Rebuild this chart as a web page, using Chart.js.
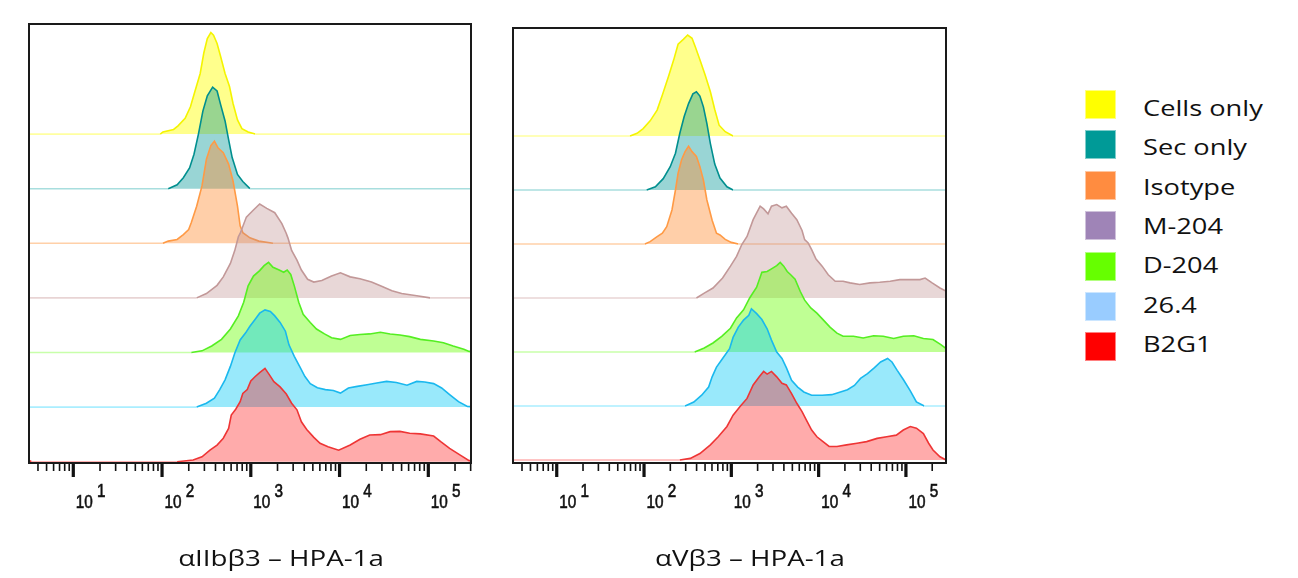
<!DOCTYPE html>
<html>
<head>
<meta charset="utf-8">
<script src="https://cdn.jsdelivr.net/npm/chart.js@4.4.1/dist/chart.umd.min.js"></script>
<style>
  body { margin: 0; background: #fff; }
  #page { position: relative; width: 1298px; height: 578px; overflow: hidden; font-family: 'Open Sans', sans-serif; color: #111; }
  canvas { position: absolute; top: 0; }
  #c1 { left: 0; }
  #c2 { left: 490px; }
  .title { position: absolute; top: 548px; font-size: 21px; line-height: 21px; white-space: nowrap; transform: translateX(-50%) scaleX(1.32); }
  .swatch { position: absolute; left: 1085px; width: 31px; height: 29px; box-sizing: border-box; }
  .label { position: absolute; left: 1143px; font-size: 22.5px; line-height: 29px; white-space: nowrap; transform-origin: left center; transform: scaleX(1.21); }
</style>
</head>
<body>
<div id="page">
  <canvas id="c1" width="490" height="578"></canvas>
  <canvas id="c2" width="480" height="578"></canvas>
</div>
<script>
// legend order, top row first
const categories = ['Cells only', 'Sec only', 'Isotype', 'M-204', 'D-204', '26.4', 'B2G1'];
const legendColors = ['#ffff00', '#009a97', '#ff8c40', '#9f84b7', '#66ff00', '#99ccff', '#ff0000'];
const lineColors = ['#f4f400', '#008f8f', '#ff9a45', '#c29898', '#55ee22', '#1ab8ee', '#ee3535'];
const fillColors = ['rgba(255,255,0,0.45)', 'rgba(0,150,150,0.4)', 'rgba(255,140,50,0.42)',
  'rgba(190,140,140,0.35)', 'rgba(102,255,0,0.42)', 'rgba(0,200,245,0.4)', 'rgba(255,0,0,0.33)'];
const baseColors = ['#ffffa0', '#a8dede', '#ffd0a8', '#e8d4d4', '#c8ffaa', '#aaeeff', '#ffb0b0'];
const tickExponents = [1, 2, 3, 4, 5];
const panelTitles = ['αIIbβ3 – HPA-1a', 'αVβ3 – HPA-1a'];

// histograms: [log10 intensity, height in rows]
const leftCells = [[1.98,0],[2.01,0.04],[2.13,0.085],[2.18,0.15],[2.26,0.29],[2.32,0.5],[2.37,0.78],[2.43,1.11],[2.47,1.48],[2.51,1.75],[2.55,1.86],[2.58,1.81],[2.62,1.66],[2.66,1.42],[2.71,1.11],[2.76,0.87],[2.80,0.56],[2.85,0.26],[2.90,0.10],[2.97,0.04],[3.05,0]];
const leftSec = [[2.07,0],[2.17,0.07],[2.24,0.20],[2.31,0.38],[2.36,0.63],[2.41,1.0],[2.46,1.42],[2.51,1.70],[2.57,1.86],[2.62,1.79],[2.66,1.54],[2.71,1.24],[2.75,0.90],[2.79,0.57],[2.85,0.26],[2.91,0.13],[2.99,0]];
const leftIso = [[2.01,0],[2.07,0.04],[2.17,0.07],[2.24,0.16],[2.30,0.25],[2.33,0.38],[2.39,0.68],[2.45,1.05],[2.50,1.54],[2.55,1.79],[2.59,1.87],[2.63,1.75],[2.69,1.66],[2.75,1.45],[2.80,1.14],[2.85,0.68],[2.88,0.32],[2.91,0.195],[2.99,0.10],[3.09,0.04],[3.25,0]];
const leftM204 = [[2.39,0],[2.50,0.08],[2.62,0.23],[2.69,0.385],[2.77,0.63],[2.82,0.87],[2.86,1.12],[2.88,1.18],[2.95,1.48],[3.03,1.61],[3.10,1.72],[3.18,1.64],[3.27,1.56],[3.35,1.36],[3.40,1.18],[3.42,1.09],[3.46,0.87],[3.52,0.69],[3.57,0.51],[3.64,0.34],[3.71,0.29],[3.80,0.32],[3.91,0.40],[4.01,0.46],[4.12,0.385],[4.23,0.35],[4.36,0.29],[4.48,0.21],[4.59,0.13],[4.70,0.08],[4.87,0.04],[5.02,0]];
const leftD204 = [[2.33,0],[2.45,0.03],[2.56,0.12],[2.67,0.24],[2.77,0.43],[2.86,0.67],[2.92,0.92],[2.97,1.22],[3.03,1.40],[3.10,1.50],[3.15,1.59],[3.20,1.65],[3.25,1.56],[3.32,1.51],[3.37,1.47],[3.41,1.51],[3.45,1.43],[3.49,1.22],[3.54,0.92],[3.59,0.70],[3.67,0.55],[3.74,0.43],[3.83,0.34],[3.91,0.27],[4.01,0.24],[4.12,0.31],[4.23,0.33],[4.34,0.34],[4.46,0.37],[4.57,0.34],[4.68,0.32],[4.79,0.29],[4.91,0.24],[5.06,0.21],[5.17,0.18],[5.28,0.12],[5.40,0.06],[5.46,0.02]];
const left264 = [[2.39,0],[2.50,0.07],[2.59,0.165],[2.65,0.32],[2.71,0.50],[2.77,0.745],[2.82,0.99],[2.88,1.23],[2.94,1.355],[2.99,1.48],[3.05,1.61],[3.10,1.72],[3.16,1.78],[3.22,1.75],[3.27,1.67],[3.33,1.55],[3.39,1.39],[3.43,1.14],[3.49,0.93],[3.55,0.745],[3.61,0.56],[3.67,0.43],[3.75,0.354],[3.84,0.32],[3.93,0.305],[4.01,0.256],[4.10,0.35],[4.20,0.38],[4.31,0.41],[4.42,0.44],[4.53,0.47],[4.64,0.45],[4.76,0.40],[4.87,0.47],[4.96,0.46],[5.06,0.43],[5.15,0.35],[5.24,0.23],[5.34,0.10],[5.44,0.01]];
const leftB2G1 = [[0.48,0.04],[0.53,0],[2.17,0],[2.35,0.03],[2.45,0.09],[2.54,0.21],[2.62,0.305],[2.69,0.43],[2.75,0.61],[2.78,0.855],[2.83,0.96],[2.88,1.10],[2.91,1.25],[2.96,1.32],[3.00,1.48],[3.05,1.56],[3.10,1.63],[3.16,1.71],[3.21,1.59],[3.26,1.465],[3.33,1.37],[3.40,1.24],[3.46,1.07],[3.52,0.95],[3.57,0.73],[3.63,0.59],[3.71,0.445],[3.78,0.336],[3.87,0.275],[3.99,0.21],[4.12,0.305],[4.23,0.41],[4.34,0.49],[4.46,0.495],[4.57,0.55],[4.68,0.555],[4.79,0.52],[4.91,0.51],[5.06,0.47],[5.14,0.366],[5.24,0.244],[5.36,0.12],[5.46,0.02]];

const rightCells = [[1.84,0],[1.92,0.05],[1.99,0.136],[2.07,0.28],[2.15,0.48],[2.21,0.76],[2.28,1.10],[2.34,1.41],[2.39,1.70],[2.45,1.79],[2.50,1.87],[2.55,1.81],[2.59,1.64],[2.64,1.41],[2.70,1.13],[2.76,0.82],[2.81,0.49],[2.86,0.20],[2.93,0.08],[3.02,0]];
const rightSec = [[2.03,0],[2.13,0.06],[2.22,0.21],[2.30,0.43],[2.36,0.68],[2.41,1.05],[2.46,1.36],[2.51,1.60],[2.56,1.78],[2.60,1.82],[2.64,1.74],[2.68,1.54],[2.72,1.23],[2.76,0.86],[2.81,0.48],[2.87,0.22],[2.95,0.06],[3.02,0]];
const rightIso = [[2.01,0],[2.07,0.043],[2.15,0.136],[2.21,0.2],[2.26,0.32],[2.32,0.63],[2.36,1.0],[2.39,1.31],[2.43,1.56],[2.47,1.71],[2.51,1.81],[2.55,1.71],[2.60,1.62],[2.64,1.43],[2.68,1.185],[2.72,0.815],[2.78,0.44],[2.83,0.20],[2.87,0.167],[2.93,0.086],[3.00,0.03],[3.08,0]];
const rightM204 = [[2.60,0],[2.69,0.09],[2.79,0.185],[2.90,0.37],[2.99,0.59],[3.06,0.77],[3.12,0.99],[3.18,1.14],[3.25,1.45],[3.33,1.70],[3.37,1.65],[3.42,1.56],[3.46,1.70],[3.52,1.73],[3.58,1.67],[3.63,1.70],[3.69,1.57],[3.75,1.45],[3.81,1.25],[3.84,1.08],[3.88,1.02],[3.92,0.895],[3.97,0.72],[4.04,0.59],[4.11,0.43],[4.19,0.31],[4.28,0.31],[4.36,0.28],[4.47,0.25],[4.59,0.28],[4.70,0.29],[4.82,0.31],[4.93,0.34],[5.05,0.34],[5.16,0.34],[5.22,0.37],[5.30,0.28],[5.39,0.185],[5.47,0.12]];
const rightD204 = [[2.58,0],[2.69,0.074],[2.79,0.167],[2.89,0.29],[2.99,0.44],[3.06,0.63],[3.14,0.78],[3.21,1.0],[3.29,1.20],[3.35,1.475],[3.41,1.49],[3.46,1.54],[3.52,1.60],[3.56,1.66],[3.60,1.59],[3.64,1.49],[3.68,1.43],[3.73,1.35],[3.79,1.12],[3.84,0.96],[3.91,0.815],[3.98,0.72],[4.05,0.60],[4.13,0.46],[4.21,0.35],[4.28,0.29],[4.40,0.29],[4.51,0.26],[4.63,0.30],[4.74,0.29],[4.86,0.25],[4.97,0.29],[5.09,0.30],[5.20,0.25],[5.31,0.23],[5.40,0.136],[5.48,0.04]];
const right264 = [[2.47,0],[2.57,0.074],[2.66,0.20],[2.74,0.35],[2.78,0.54],[2.83,0.72],[2.90,0.88],[2.98,1.06],[3.02,1.27],[3.08,1.46],[3.14,1.59],[3.20,1.68],[3.23,1.80],[3.29,1.71],[3.35,1.60],[3.41,1.43],[3.46,1.22],[3.52,1.0],[3.58,0.88],[3.63,0.71],[3.69,0.475],[3.76,0.35],[3.83,0.26],[3.92,0.20],[4.04,0.20],[4.15,0.21],[4.25,0.26],[4.33,0.30],[4.41,0.38],[4.48,0.51],[4.56,0.60],[4.64,0.71],[4.71,0.815],[4.79,0.88],[4.84,0.815],[4.90,0.66],[4.97,0.49],[5.05,0.28],[5.12,0.074],[5.21,0]];
const rightB2G1 = [[2.41,0],[2.53,0.03],[2.64,0.12],[2.76,0.28],[2.85,0.43],[2.95,0.62],[3.02,0.83],[3.10,0.99],[3.18,1.14],[3.25,1.39],[3.32,1.54],[3.37,1.64],[3.41,1.59],[3.46,1.64],[3.52,1.54],[3.58,1.42],[3.63,1.39],[3.69,1.23],[3.75,1.05],[3.81,0.895],[3.86,0.74],[3.92,0.555],[3.98,0.43],[4.05,0.34],[4.12,0.25],[4.21,0.25],[4.32,0.28],[4.44,0.31],[4.55,0.34],[4.67,0.40],[4.78,0.43],[4.89,0.46],[4.97,0.555],[5.05,0.62],[5.12,0.59],[5.20,0.49],[5.26,0.31],[5.31,0.185],[5.39,0.06],[5.46,0]];

const leftCurves = [leftCells, leftSec, leftIso, leftM204, leftD204, left264, leftB2G1];
const rightCurves = [rightCells, rightSec, rightIso, rightM204, rightD204, right264, rightB2G1];

// frame, log ticks and 10^n labels
const logAxis = {
  id: 'logAxis',
  afterDatasetsDraw(chart) {
    const { ctx, chartArea: a, scales: { x } } = chart;
    ctx.save();
    ctx.fillStyle = '#111';
    for (let d = 0; d <= 5; d++) {
      for (let m = 1; m <= 9; m++) {
        const v = m * Math.pow(10, d);
        if (v < x.min || v > x.max) continue;
        const px = x.getPixelForValue(v);
        if (m === 1) ctx.fillRect(px - 1.6, a.bottom, 3.2, 14);
        else ctx.fillRect(px - 0.8, a.bottom, 1.6, 8);
      }
    }
    ctx.strokeStyle = '#1a1a1a';
    ctx.lineWidth = 2;
    ctx.strokeRect(a.left, a.top, a.right - a.left, a.bottom - a.top);
    ctx.font = '18px "Liberation Sans", Arial, sans-serif';
    ctx.textBaseline = 'alphabetic';
    ctx.strokeStyle = '#111';
    ctx.lineWidth = 0.6;
    tickExponents.forEach(e => {
      const px = x.getPixelForValue(Math.pow(10, e)) + 2.5;
      ctx.save();
      ctx.translate(px, 508);
      ctx.scale(0.85, 1);
      ctx.fillText('10', 0, 0);
      ctx.strokeText('10', 0, 0);
      const w = ctx.measureText('10').width;
      ctx.fillText(String(e), w + 5, -11);
      ctx.strokeText(String(e), w + 5, -11);
      ctx.restore();
    });
    ctx.restore();
  }
};

function makePanel(id, curves, xMinExp, xMaxExp, yMin, yMax, pad) {
  const n = curves.length;
  const datasets = curves.map((pts, k) => {
    const off = n - 1 - k;
    const data = [[xMinExp - 0.2, 0], ...pts, [xMaxExp + 0.2, 0]].map(([e, h]) => ({ x: Math.pow(10, e), y: off + h }));
    return {
      label: categories[k],
      data,
      order: off,
      borderColor: lineColors[k],
      backgroundColor: fillColors[k],
      borderWidth: 1.6,
      fill: { value: off },
      pointRadius: 0,
      tension: 0,
      segment: {
        borderColor: c => (c.p0.parsed.y === off && c.p1.parsed.y === off) ? baseColors[k] : undefined
      }
    };
  });
  new Chart(document.getElementById(id), {
    type: 'line',
    data: { datasets },
    options: {
      responsive: false,
      animation: false,
      layout: { padding: pad },
      plugins: { legend: { display: false }, tooltip: { enabled: false } },
      scales: {
        x: { type: 'logarithmic', min: Math.pow(10, xMinExp), max: Math.pow(10, xMaxExp), display: false },
        y: { type: 'linear', min: yMin, max: yMax, display: false }
      }
    },
    plugins: [logAxis]
  });
}

makePanel('c1', leftCurves, 0.501, 5.481, -0.024, 8.016, { left: 29, top: 24, right: 19, bottom: 115 });
makePanel('c2', rightCurves, 0.499, 5.459, -0.056, 8.0, { left: 23, top: 28, right: 24, bottom: 115 });

// titles under the panels
const page = document.getElementById('page');
[281, 750].forEach((cx, i) => {
  const t = document.createElement('div');
  t.className = 'title';
  t.style.left = cx + 'px';
  t.textContent = panelTitles[i];
  page.appendChild(t);
});

// legend
categories.forEach((name, i) => {
  const sw = document.createElement('div');
  sw.className = 'swatch';
  sw.style.top = (90 + i * 40.4) + 'px';
  sw.style.background = legendColors[i];
  sw.style.border = '1px solid rgba(255,255,255,0.5)';
  page.appendChild(sw);
  const lb = document.createElement('div');
  lb.className = 'label';
  lb.style.top = (93 + i * 39.3) + 'px';
  lb.textContent = name;
  page.appendChild(lb);
});
</script>
</body>
</html>
